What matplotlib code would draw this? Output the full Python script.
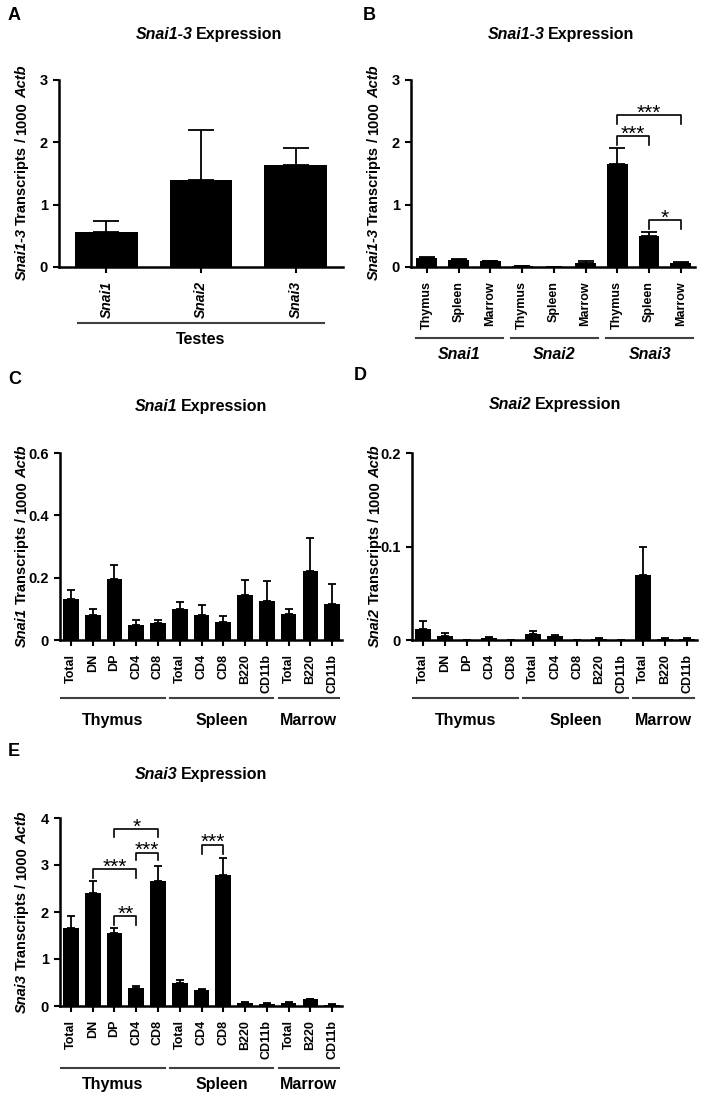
import numpy as np
import matplotlib
matplotlib.use('Agg')
import matplotlib.pyplot as plt

plt.rcParams['font.family'] = ['Liberation Sans', 'DejaVu Sans']
plt.rcParams['font.weight'] = 'bold'

# ---- data ----
testes_genes = ['Snai1', 'Snai2', 'Snai3']
testes_mean = [0.56, 1.39, 1.64]
testes_err = [0.17, 0.80, 0.27]

tissue_labels = ['Thymus', 'Spleen', 'Marrow', 'Thymus', 'Spleen', 'Marrow',
                 'Thymus', 'Spleen', 'Marrow']
gene_groups = ['Snai1', 'Snai2', 'Snai3']
gene_group_sizes = [3, 3, 3]
tissue_mean = [0.14, 0.11, 0.09, 0.01, 0.0, 0.07, 1.66, 0.49, 0.07]
tissue_err = [0.02, 0.015, 0.01, 0.005, 0.0, 0.02, 0.25, 0.07, 0.01]

cell_labels = ['Total', 'DN', 'DP', 'CD4', 'CD8', 'Total', 'CD4', 'CD8',
               'B220', 'CD11b', 'Total', 'B220', 'CD11b']
organ_groups = ['Thymus', 'Spleen', 'Marrow']
organ_group_sizes = [5, 5, 3]

snai1_mean = [0.132, 0.081, 0.196, 0.048, 0.053, 0.099, 0.080, 0.059, 0.144,
              0.126, 0.085, 0.222, 0.116]
snai1_err = [0.028, 0.020, 0.044, 0.016, 0.010, 0.024, 0.033, 0.017, 0.050,
             0.063, 0.016, 0.106, 0.064]

snai2_mean = [0.012, 0.0043, 0.0, 0.0025, 0.0, 0.0068, 0.004, 0.0, 0.0015,
              0.0, 0.069, 0.0015, 0.0012]
snai2_err = [0.008, 0.003, 0.0, 0.0008, 0.0, 0.0025, 0.001, 0.0, 0.0005,
             0.0, 0.030, 0.0005, 0.0005]

snai3_mean = [1.66, 2.41, 1.56, 0.38, 2.66, 0.50, 0.34, 2.79, 0.07, 0.05,
              0.07, 0.14, 0.03]
snai3_err = [0.25, 0.26, 0.09, 0.05, 0.32, 0.05, 0.03, 0.36, 0.01, 0.01,
             0.01, 0.015, 0.005]

# significance: (bar i, bar j, bracket top, tip end, stars)
sig_b = [(6, 8, 2.44, 2.30, '***'), (6, 7, 2.10, 1.96, '***'),
         (7, 8, 0.75, 0.61, '*')]
sig_e = [(2, 4, 3.76, 3.59, '*'), (3, 4, 3.26, 3.10, '***'),
         (1, 3, 2.91, 2.73, '***'), (2, 3, 1.91, 1.73, '**'),
         (6, 7, 3.43, 3.23, '***')]

italic_words = {'Snai1', 'Snai2', 'Snai3', 'Snai1-3', 'Actb'}

W, H = 705, 1102
fig = plt.figure(figsize=(W / 100, H / 100), dpi=100)
renderer = fig.canvas.get_renderer()


def add_axes(left, top, right, bottom):
    return fig.add_axes([left / W, 1 - bottom / H, (right - left) / W,
                         (bottom - top) / H])


def ftext(x, y, s, **kw):
    fig.text(x / W, 1 - y / H, s, **kw)


def rich(x, y, text, size, rotation=0):
    # word-by-word text so gene names can be italic; (x, y) is the centre in px
    words = text.split(' ')
    arts, widths = [], []
    for w in words:
        t = fig.text(0, 0, w, fontsize=size,
                     fontstyle='italic' if w in italic_words else 'normal',
                     ha='left', va='baseline')
        widths.append(t.get_window_extent(renderer).width)
        arts.append(t)
    em = size * 100 / 72
    gap = 0.24 * em
    total = sum(widths) + gap * (len(words) - 1)
    pos = -total / 2
    for t, wd in zip(arts, widths):
        if rotation == 0:
            t.set_position(((x + pos) / W, 1 - (y + 0.36 * em) / H))
        else:
            t.set_rotation(90)
            t.set_rotation_mode('anchor')
            t.set_position(((x + 0.36 * em) / W, 1 - (y - pos) / H))
        pos += wd + gap


def draw_bars(ax, labels, mean, err, width, capsize, ylim, yticks, yticklabels,
              italic=False, xsize=9):
    x = np.arange(len(mean))
    ax.bar(x, mean, width=width, color='black', zorder=2)
    ax.errorbar(x, mean, yerr=[np.zeros(len(err)), err], fmt='none',
                ecolor='black', elinewidth=1.3, capsize=capsize, capthick=1.3,
                zorder=3)
    ax.set_ylim(*ylim)
    ax.set_yticks(yticks)
    ax.set_yticklabels(yticklabels, fontsize=10.5)
    ax.set_xticks(x)
    ax.set_xticklabels(labels, rotation=90, fontsize=xsize,
                       fontstyle='italic' if italic else 'normal')
    for s in ['top', 'right']:
        ax.spines[s].set_visible(False)
    for s in ['left', 'bottom']:
        ax.spines[s].set_linewidth(1.8)
    ax.tick_params(axis='both', direction='out', length=4, width=1.5)
    ax.tick_params(axis='x', pad=6)
    ax.tick_params(axis='y', pad=4)


def group_lines(ax, names, sizes, line_y, label_y, italic=False,
                pad_left=0.45, pad_right=0.3):
    start = 0
    for name, n in zip(names, sizes):
        x0 = start - pad_left
        x1 = start + n - 1 + pad_right
        ax.plot([x0, x1], [line_y, line_y], color='0.25', lw=1.5,
                transform=ax.get_xaxis_transform(), clip_on=False)
        ax.text((x0 + x1) / 2, label_y, name, ha='center', va='center',
                fontsize=11.5, fontstyle='italic' if italic else 'normal',
                transform=ax.get_xaxis_transform())
        start += n


def bracket(ax, i, j, top, tip, stars):
    ax.plot([i, i, j, j], [tip, top, top, tip], color='black', lw=1.2,
            zorder=4)
    ax.annotate(stars, xy=((i + j) / 2, top), xytext=(0, -2.5),
                textcoords='offset points', ha='center', va='baseline',
                fontsize=15, fontweight='normal')


# ---- panel A ----
axA = add_axes(59, 80, 343, 267)
draw_bars(axA, testes_genes, testes_mean, testes_err, 0.66, 9.5, (0, 3),
          [0, 1, 2, 3], ['0', '1', '2', '3'], italic=True, xsize=10)
axA.set_xlim(-0.5, 2.5)
axA.plot([-0.3, 2.3], [-0.30, -0.30], color='0.25', lw=1.5,
         transform=axA.get_xaxis_transform(), clip_on=False)
axA.text(1.0, -0.39, 'Testes', ha='center', va='center', fontsize=11.5,
         transform=axA.get_xaxis_transform())

# ---- panel B ----
axB = add_axes(411, 80, 695, 267)
draw_bars(axB, tissue_labels, tissue_mean, tissue_err, 0.66, 6, (0, 3),
          [0, 1, 2, 3], ['0', '1', '2', '3'])
axB.set_xlim(-0.5, 8.45)
group_lines(axB, gene_groups, gene_group_sizes, -0.38, -0.47, italic=True,
            pad_left=0.35, pad_right=0.4)
for i, j, top, tip, st in sig_b:
    bracket(axB, i, j, top, tip, st)

# ---- panel C ----
axC = add_axes(60, 453, 342, 640)
draw_bars(axC, cell_labels, snai1_mean, snai1_err, 0.72, 3, (0, 0.6),
          [0, 0.2, 0.4, 0.6], ['0', '0.2', '0.4', '0.6'])
axC.set_xlim(-0.5, 12.45)
group_lines(axC, organ_groups, organ_group_sizes, -0.31, -0.43)

# ---- panel D ----
axD = add_axes(412, 453, 697, 640)
draw_bars(axD, cell_labels, snai2_mean, snai2_err, 0.72, 3, (0, 0.2),
          [0, 0.1, 0.2], ['0', '0.1', '0.2'])
axD.set_xlim(-0.5, 12.45)
group_lines(axD, organ_groups, organ_group_sizes, -0.31, -0.43)

# ---- panel E ----
axE = add_axes(60, 818, 342, 1006)
draw_bars(axE, cell_labels, snai3_mean, snai3_err, 0.72, 3, (0, 4),
          [0, 1, 2, 3, 4], ['0', '1', '2', '3', '4'])
axE.set_xlim(-0.5, 12.45)
group_lines(axE, organ_groups, organ_group_sizes, -0.33, -0.42)
for i, j, top, tip, st in sig_e:
    bracket(axE, i, j, top, tip, st)

# ---- titles, y labels, panel letters ----
rich(209, 33, 'Snai1-3 Expression', 11.5)
rich(561, 33, 'Snai1-3 Expression', 11.5)
rich(201, 405, 'Snai1 Expression', 11.5)
rich(555, 403, 'Snai2 Expression', 11.5)
rich(201, 773, 'Snai3 Expression', 11.5)

rich(21, 173, 'Snai1-3 Transcripts / 1000 Actb', 10.5, rotation=90)
rich(373, 173, 'Snai1-3 Transcripts / 1000 Actb', 10.5, rotation=90)
rich(21, 546, 'Snai1 Transcripts / 1000 Actb', 10.5, rotation=90)
rich(374, 546, 'Snai2 Transcripts / 1000 Actb', 10.5, rotation=90)
rich(21, 912, 'Snai3 Transcripts / 1000 Actb', 10.5, rotation=90)

for letter, x, y in [('A', 8, 15), ('B', 363, 15), ('C', 8, 379),
                     ('D', 354, 376), ('E', 8, 752)]:
    ftext(x, y, letter, ha='left', va='center', fontsize=13)

fig.savefig('out.png', dpi=100, facecolor='white')
